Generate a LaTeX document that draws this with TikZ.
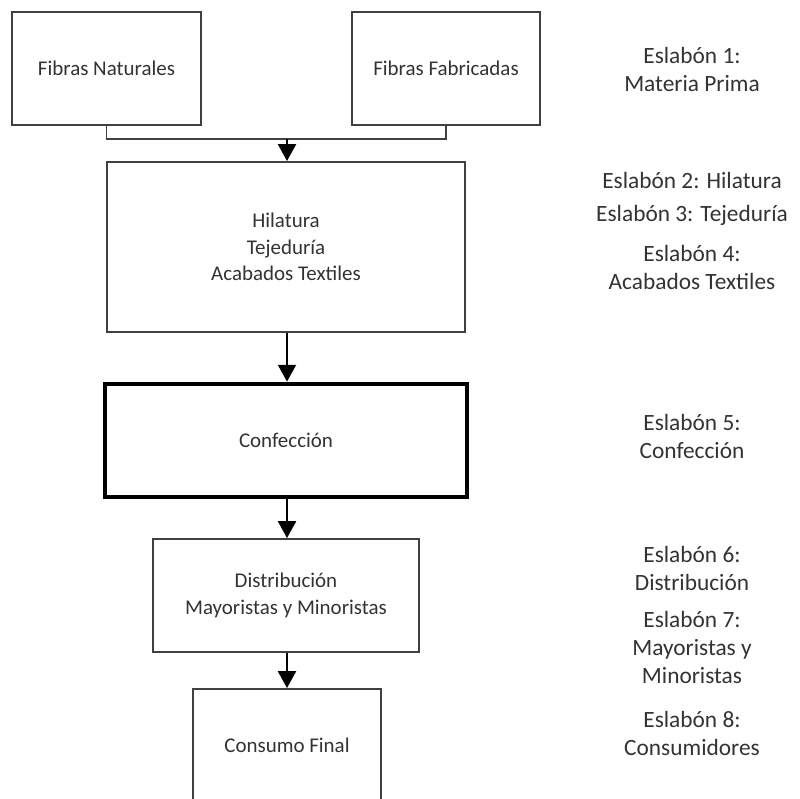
\documentclass[tikz,border=0pt]{standalone}
\usepackage{fontspec}
\setmainfont{Carlito}
\usetikzlibrary{arrows.meta}

\begin{document}
\begin{tikzpicture}[x=0.025cm,y=-0.025cm,line width=1.4pt,>={Triangle[width=0.45cm,length=0.42cm]},
    box node/.style={rectangle,draw=black!75,fill=white,align=center,text=black!80,font=\fontsize{14.9}{18.8}\selectfont,minimum height=2.825cm},
    link label/.style={align=center,text=black!80,font=\fontsize{16.6}{19.9}\selectfont}]
    \clip (0,0) rectangle (800,798);
    \fill[white] (0,0) rectangle (800,798);
    \node[box node, minimum width=4.725cm] (nat) at (106.5,68.5) {Fibras Naturales};
    \node[box node, minimum width=4.7cm] (fab) at (446,68.5) {Fibras Fabricadas};
    \node[box node, minimum width=8.925cm, minimum height=4.25cm] (hil) at (286,247) {Hilatura\\Tejeduría\\Acabados Textiles};
    \node[box node, minimum width=9.05cm, draw=black, line width=3.4pt] (conf) at (286,440.5) {Confección};
    \node[box node, minimum width=6.625cm] (dist) at (286,595.5) {Distribución\\Mayoristas y Minoristas};
    \node[box node, minimum width=4.7cm] (cons) at (287,745.5) {Consumo Final};
    \coordinate (join) at (287,139);
    \draw[black!75] (nat.south) |- (join) -| (fab.south);
    \path [->] (join) edge (join |- hil.north);
    \path [->] (join |- hil.south) edge (join |- conf.north);
    \path [->] (join |- conf.south) edge (join |- dist.north);
    \path [->] (join |- dist.south) edge (join |- cons.north);

    \node[link label] (l1) at (692,69) {Eslabón 1:\\Materia Prima};
    \node[link label] (l2) at (692,180) {Eslabón 2: Hilatura};
    \node[link label] (l3) at (692,215) {Eslabón 3: Tejeduría};
    \node[link label] (l4) at (692,267.5) {Eslabón 4:\\Acabados Textiles};
    \node[link label] (l5) at (692,436) {Eslabón 5:\\Confección};
    \node[link label] (l6) at (692,568) {Eslabón 6:\\Distribución};
    \node[link label] (l7) at (692,647) {Eslabón 7:\\Mayoristas y\\Minoristas};
    \node[link label] (l8) at (692,733) {Eslabón 8:\\Consumidores};
\end{tikzpicture}
\end{document}
